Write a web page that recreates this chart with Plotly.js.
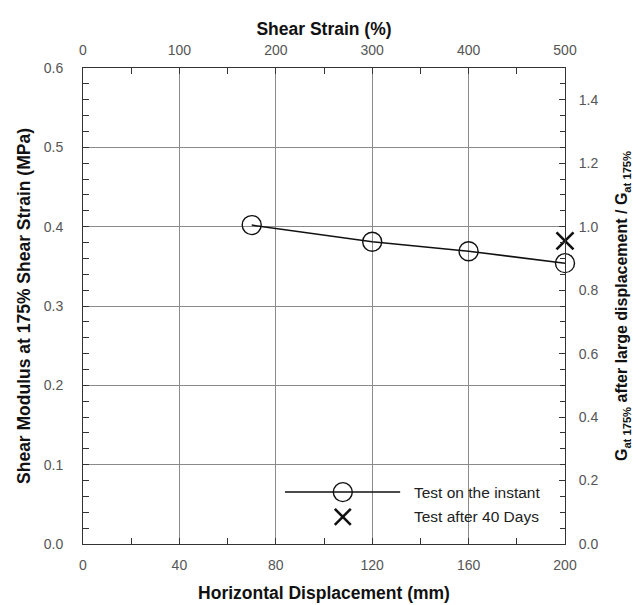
<!DOCTYPE html>
<html>
<head>
<meta charset="utf-8">
<script src="https://cdn.plot.ly/plotly-3.0.1.min.js"></script>
<style>html,body{margin:0;padding:0;background:#fff;}#chart{width:642px;height:605px;}</style>
</head>
<body>
<div id="chart"></div>
<script>
// Data
const displacementMm = [70, 120, 160, 200];
const modulusInstantMPa = [0.402, 0.381, 0.369, 0.354];
const displacementAfter40Mm = [200];
const modulusAfter40MPa = [0.382];
const seriesNames = ["Test on the instant", "Test after 40 Days"];

const tickFont = {family: "Liberation Sans Narrow, Arial Narrow, sans-serif", size: 14, color: "#555"};
const titleFont = {family: "Liberation Sans, Arial, sans-serif", size: 17.5, color: "#111"};
const legendFont = {family: "Liberation Sans, Arial, sans-serif", size: 15.5, color: "#222"};
const gridColor = "#8a8a8a";

const traces = [
  {
    x: displacementMm, y: modulusInstantMPa, name: seriesNames[0],
    type: "scatter", mode: "lines+markers", xaxis: "x", yaxis: "y",
    line: {color: "#111", width: 1.5},
    marker: {symbol: "circle-open", size: 19, color: "#111", line: {width: 1.4, color: "#111"}},
    cliponaxis: false
  },
  {
    x: displacementAfter40Mm, y: modulusAfter40MPa, name: seriesNames[1],
    type: "scatter", mode: "markers", xaxis: "x", yaxis: "y",
    marker: {symbol: "x-thin-open", size: 17, color: "#111", line: {width: 2.6, color: "#111"}},
    cliponaxis: false
  },
  {x: [], y: [], xaxis: "x2", yaxis: "y", type: "scatter", showlegend: false, hoverinfo: "skip"},
  {x: [], y: [], xaxis: "x", yaxis: "y2", type: "scatter", showlegend: false, hoverinfo: "skip"}
];

// Hand-drawn legend (long line sample as in the reference)
const legRow1 = 0.109, legRow2 = 0.057, legLineX0 = 0.419, legLineX1 = 0.658, legSymX = 0.539, legTextX = 0.683;
const shapes = [
  {type: "line", xref: "paper", yref: "paper", x0: legLineX0, x1: legLineX1, y0: legRow1, y1: legRow1,
   line: {color: "#111", width: 1.5}},
  {type: "circle", xref: "paper", yref: "paper", xsizemode: "pixel", ysizemode: "pixel",
   xanchor: legSymX, yanchor: legRow1, x0: -9.5, x1: 9.5, y0: -9.5, y1: 9.5,
   line: {color: "#111", width: 1.4}},
  {type: "line", xref: "paper", yref: "paper", xsizemode: "pixel", ysizemode: "pixel",
   xanchor: legSymX, yanchor: legRow2, x0: -8, x1: 8, y0: -8, y1: 8, line: {color: "#111", width: 2.6}},
  {type: "line", xref: "paper", yref: "paper", xsizemode: "pixel", ysizemode: "pixel",
   xanchor: legSymX, yanchor: legRow2, x0: -8, x1: 8, y0: 8, y1: -8, line: {color: "#111", width: 2.6}}
];
const annotations = [
  {xref: "paper", yref: "paper", x: legTextX, y: legRow1, xanchor: "left", yanchor: "middle",
   text: seriesNames[0], showarrow: false, font: legendFont},
  {xref: "paper", yref: "paper", x: legTextX, y: legRow2, xanchor: "left", yanchor: "middle",
   text: seriesNames[1], showarrow: false, font: legendFont}
];

const layout = {
  width: 642, height: 605,
  margin: {l: 83, r: 77, t: 68, b: 61},
  paper_bgcolor: "#fff", plot_bgcolor: "#fff",
  showlegend: false,
  shapes: shapes,
  annotations: annotations,
  xaxis: {
    range: [0, 200], dtick: 40, tick0: 0,
    showline: true, linecolor: "#333", linewidth: 1, mirror: false,
    ticks: "inside", ticklen: 6, tickcolor: "#333",
    minor: {dtick: 20, ticks: "inside", ticklen: 6, tickcolor: "#333", showgrid: false},
    showgrid: true, gridcolor: gridColor, gridwidth: 1,
    zeroline: false, tickfont: tickFont, ticklabelstandoff: 8,
    title: {text: "<b>Horizontal Displacement (mm)</b>", font: titleFont, standoff: 14}
  },
  xaxis2: {
    overlaying: "x", side: "top", anchor: "y",
    range: [0, 500], dtick: 100, tick0: 0,
    showline: true, linecolor: "#333", linewidth: 1,
    ticks: "inside", ticklen: 6, tickcolor: "#333",
    minor: {dtick: 50, ticks: "inside", ticklen: 6, tickcolor: "#333", showgrid: false},
    showgrid: false, zeroline: false, tickfont: tickFont, ticklabelstandoff: 6,
    title: {text: "<b>Shear Strain (%)</b>", font: titleFont, standoff: 2}
  },
  yaxis: {
    range: [0, 0.6], dtick: 0.1, tick0: 0, tickformat: ".1f",
    showline: true, linecolor: "#333", linewidth: 1,
    ticks: "inside", ticklen: 6, tickcolor: "#333",
    minor: {dtick: 0.02, ticks: "inside", ticklen: 6, tickcolor: "#333", showgrid: false},
    showgrid: true, gridcolor: gridColor, gridwidth: 1,
    zeroline: false, tickfont: tickFont, ticklabelstandoff: 16,
    title: {text: "<b>Shear Modulus at 175% Shear Strain (MPa)</b>", font: titleFont, standoff: 8}
  },
  yaxis2: {
    overlaying: "y", side: "right", anchor: "x",
    range: [0, 1.5], dtick: 0.2, tick0: 0, tickformat: ".1f",
    showline: true, linecolor: "#333", linewidth: 1,
    ticks: "inside", ticklen: 6, tickcolor: "#333",
    minor: {dtick: 0.05, ticks: "inside", ticklen: 5, tickcolor: "#333", showgrid: false},
    showgrid: false, zeroline: false, tickfont: tickFont, ticklabelstandoff: 10,
    title: {text: "<b>G<sub>at 175%</sub> after large displacement / G<sub>at 175%</sub></b>",
            font: {family: titleFont.family, size: 16, color: titleFont.color}, standoff: 18}
  }
};

Plotly.newPlot("chart", traces, layout, {staticPlot: true, displayModeBar: false});
</script>
</body>
</html>
